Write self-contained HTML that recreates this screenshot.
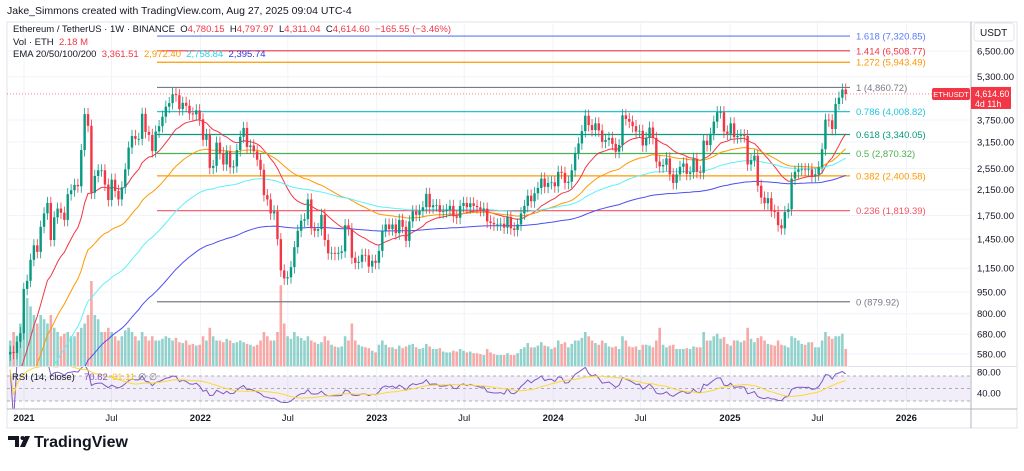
<!DOCTYPE html>
<html><head><meta charset="utf-8"><style>
html,body{margin:0;padding:0;background:#fff;width:1024px;height:471px;overflow:hidden;font-family:"Liberation Sans",sans-serif}
svg{position:absolute;left:0;top:0}
</style></head><body>
<svg id="chart" width="1024" height="471" xmlns="http://www.w3.org/2000/svg"></svg>
<script>
const closes=[590,585,640,685,975,
1040,1230,1380,1310,1600,1780,1935,1440,1725,1850,1790,1690,2075,2140,2235,2210,2950,3930,3580,2100,2400,2510,2510,2240,1980,2330,2130,1990,2190,2530,3010,3300,3225,3225,3940,3410,3330,2925,3420,3570,3850,4170,4290,4610,4570,4090,4300,4200,3950,3920,4050,3770,
3200,3330,2560,2600,3130,2880,2630,2920,2570,2590,2950,3280,3520,3020,3060,2920,2730,2520,2060,1990,1780,1810,1450,1130,1060,1070,1160,1360,1550,1680,1700,1990,1580,1550,1570,1760,1440,1295,1300,1290,1300,1315,1620,1570,1250,1200,1210,1280,1275,1165,1220,1200,
1320,1550,1630,1570,1630,1520,1690,1600,1430,1670,1810,1760,1820,1870,2080,1870,1900,1900,1800,1810,1830,1890,1740,1720,1890,1935,1870,1930,1890,1870,1830,1850,1670,1650,1630,1630,1640,1590,1730,1580,1560,1630,1780,1890,2050,1960,2090,2180,2350,2200,2270,2280,
2210,2480,2460,2270,2290,2510,2880,3110,3430,3880,3600,3460,3650,3450,3150,3200,3250,3100,2910,3070,3890,3780,3700,3570,3420,3440,3060,3250,3530,3250,2690,2590,2620,2760,2430,2270,2430,2580,2650,2440,2470,2750,2480,2460,3180,3070,3360,3700,3990,3990,3420,3360,3650,
3270,3300,3320,3300,2630,2720,2820,2220,2020,1930,2010,1820,1800,1620,1580,1800,1840,2350,2480,2530,2530,2520,2530,2400,2430,2570,2970,3760,3740,3490,4260,4480,4780,4614.6];
const volumes=[3,4,3.5,5,6,
8,7,6,5,6,5.5,5,6,4.5,4,3.5,3.8,4,3.5,3.5,4,4.5,5,6,10,6,5.5,4,4,4.5,4,3.5,3,3.5,4.2,4.5,4,3.5,3,4,3.5,3,3.5,3,3,3.2,3.5,3.3,3,3.3,2.8,2.7,3,2.5,2.6,2.4,2.5,
3.5,3,4.5,3.5,3,3,2.8,3.2,3,2.7,2.8,3,2.8,2.6,2.5,2.3,2.5,3,4,3.5,3,3,4,9.5,5,3.5,3.2,4,3.5,3.3,3,3.5,3,2.8,2.6,2.8,3.5,3,2.5,2.3,2.2,2.3,3.5,3,5,3,2.5,2.3,2.2,2.1,1.8,1.6,
2.5,3,2.5,2.2,2.2,2,2.4,2.1,2.3,2.5,2.6,2.2,2,2.1,2.6,2.3,2,2,2.1,1.7,1.6,1.6,1.8,1.7,2,1.8,1.6,1.7,1.5,1.5,1.4,1.3,2,1.6,1.4,1.3,1.3,1.3,1.5,1.3,1.3,1.5,2,2.2,2.7,2.2,2.2,2.4,2.8,2.4,2.3,2.0,
2.2,3,2.6,2.8,2.2,2.6,3,3,3.3,4,3.5,3,2.7,2.5,3,2.7,2.3,2.2,2.3,2,3.5,3,2.3,2.2,2.3,1.9,2.5,2.5,2.4,2.2,3,4.5,2.5,2.2,2.4,2.5,2,2,2,2.1,2,2.3,2.2,2.2,4,3,3,3.5,3.8,3.2,3.4,2.6,2.4,
3,3,2.8,3,4.5,3.2,2.8,3.3,3.5,3,2.6,2.5,2.4,3,2.5,2.4,2.2,3.5,3.3,3,2.6,2.5,2.8,2.8,2.2,2.2,3,4,3.5,3.2,3.5,3.5,3.8,2.0];
const priceTicks=[6500,5300,3750,3150,2550,2150,1750,1450,1150,950,800,680,580];
const timeLabels=["2021","Jul","2022","Jul","2023","Jul","2024","Jul","2025","Jul","2026"];
const timeDays=[0,181,365,546,730,911,1095,1276,1461,1642,1826];
const fibRatios=["1.618","1.414","1.272","1","0.786","0.618","0.5","0.382","0.236","0"];
const fibPrices=[7320.85,6508.77,5943.49,4860.72,4008.82,3340.05,2870.32,2400.58,1819.39,879.92];
const fibColors=["#5b7cf7","#f23645","#ff9800","#787b86","#22c4dc","#089981","#4caf50","#ff9800","#f7525f","#787b86"];

const NS="http://www.w3.org/2000/svg";
const svg=document.getElementById('chart');
function el(tag,attrs,parent){const e=document.createElementNS(NS,tag);for(const k in attrs)e.setAttribute(k,attrs[k]);(parent||svg).appendChild(e);return e;}
function txt(x,y,s,attrs,parent){const t=el('text',Object.assign({x:x,y:y,'font-family':'Liberation Sans, sans-serif'},attrs),parent);t.textContent=s;return t;}
const yP=p=>51+(Math.log(6500)-Math.log(p))*125.4;
const xI=i=>24+((i*7+3.5)-32)/365.25*176.5;
const xD=d=>24+d/365.25*176.5;
const yR=v=>376+(70-v)*0.625;
const L=7,R=970,T=22,PB=366;

el('rect',{x:7,y:22,width:1010,height:406,fill:'#fff',stroke:'#e0e3eb','stroke-width':1});
const grid=el('g',{});
priceTicks.forEach(p=>el('line',{x1:L,x2:R,y1:yP(p),y2:yP(p),stroke:'#f0f3fa','stroke-width':1},grid));
timeDays.forEach(d=>el('line',{x1:xD(d),x2:xD(d),y1:T,y2:409,stroke:'#f0f3fa','stroke-width':1},grid));
const defs=el('defs',{});
const cp=el('clipPath',{id:'pc'},defs);el('rect',{x:L,y:T,width:R-L,height:PB-T},cp);
const cr=el('clipPath',{id:'rc'},defs);el('rect',{x:L,y:367,width:R-L,height:42},cr);

const vg=el('g',{'clip-path':'url(#pc)'});
closes.forEach((c,i)=>{const o=i?closes[i-1]:c*0.98;const v=volumes[i]||2;const h=v/10*85;
 const r=el('rect',{x:xI(i)-1.3,y:PB-h,width:2.6,height:h,fill:c>=o?'#26a69a':'#ef5350','fill-opacity':0.5},vg);
 });

const fg=el('g',{});
fibPrices.forEach((p,k)=>{const y=yP(p);el('line',{x1:157,x2:850,y1:y,y2:y,stroke:fibColors[k],'stroke-width':1.2},fg);
 const t=txt(856,y+3.5,fibRatios[k]+' ('+p.toLocaleString('en-US',{minimumFractionDigits:2})+')',{'font-size':9.5,fill:fibColors[k]},fg);
 });

function ema(n,seed){let e=seed;return closes.map(c=>{e=e+(c-e)*2/(n+1);return e;});}
const emaDefs=[[20,450,'#f23645'],[50,350,'#ff9800'],[100,300,'#5ef0f8'],[200,220,'#4b4ff0']];
emaDefs.forEach(([n,s,col])=>{const v=ema(n,s);const d=v.map((e,i)=>(i?'L':'M')+xI(i).toFixed(1)+','+yP(e).toFixed(1)).join('');
 const p=el('path',{d:d,fill:'none',stroke:col,'stroke-width':1,'clip-path':'url(#pc)'});});

const cg=el('g',{'clip-path':'url(#pc)'});
closes.forEach((c,i)=>{const o=i?closes[i-1]:c*0.98;const up=c>=o;const col=up?'#089981':'#f23645';const x=xI(i);
 const hi=Math.max(o,c)*1.05,lo=Math.min(o,c)*0.95;
 el('line',{x1:x,x2:x,y1:yP(hi),y2:yP(lo),stroke:col,'stroke-width':0.8},cg);
 const yt=yP(Math.max(o,c)),yb=yP(Math.min(o,c));
 const r=el('rect',{x:x-1.2,y:yt,width:2.4,height:Math.max(0.8,yb-yt),fill:col},cg);
 });

const last=closes[closes.length-1];
el('line',{x1:L,x2:R,y1:yP(last),y2:yP(last),stroke:'#f23645','stroke-width':0.7,'stroke-dasharray':'1,2'});

el('line',{x1:L,x2:1017,y1:366.5,y2:366.5,stroke:'#e0e3eb'});
el('rect',{x:L,y:yR(70),width:R-L,height:yR(30)-yR(70),fill:'#7e57c2','fill-opacity':0.1});
[70,50,30].forEach(v=>el('line',{x1:L,x2:R,y1:yR(v),y2:yR(v),stroke:'#9598a1','stroke-width':0.8,'stroke-dasharray':'3,3'}));
let ag=0,al=0;const rsi=[];closes.forEach((c,i)=>{if(!i){rsi.push(80);return;}const ch=c-closes[i-1];const g=Math.max(ch,0),l=Math.max(-ch,0);
 if(i<=14){ag+=g/14;al+=l/14;}else{ag=(ag*13+g)/14;al=(al*13+l)/14;}rsi.push(al===0?90:100-100/(1+ag/al));});
const rsiMa=rsi.map((v,i)=>{const s=rsi.slice(Math.max(0,i-13),i+1);return s.reduce((a,b)=>a+b,0)/s.length;});
const rp=el('path',{d:rsi.map((v,i)=>(i?'L':'M')+xI(i).toFixed(1)+','+yR(v).toFixed(1)).join(''),fill:'none',stroke:'#7e57c2','stroke-width':1,'clip-path':'url(#rc)'});

const rm=el('path',{d:rsiMa.map((v,i)=>(i?'L':'M')+xI(i).toFixed(1)+','+yR(v).toFixed(1)).join(''),fill:'none',stroke:'#fdd835','stroke-width':1,'clip-path':'url(#rc)'});

txt(12,380,'RSI (14, close)',{'font-size':9.5,fill:'#131722'});
txt(84,380,'70.82',{'font-size':9.5,fill:'#7e57c2'});
txt(112,380,'61.11',{'font-size':9.5,fill:'#f9c30f'});
txt(138,380,'∅ ∅',{'font-size':9.5,fill:'#787b86'});

el('line',{x1:971,x2:971,y1:22,y2:428,stroke:'#b2b5be'});
el('line',{x1:L,x2:1017,y1:409,y2:409,stroke:'#b2b5be'});
const pa=el('g',{});
priceTicks.forEach(p=>txt(977,yP(p)+3.5,p.toLocaleString('en-US',{minimumFractionDigits:2}),{'font-size':9.5,fill:'#131722'},pa));
txt(977,372+3.5,'80.00',{'font-size':9.5,fill:'#131722'},pa);
txt(977,393+3.5,'40.00',{'font-size':9.5,fill:'#131722'},pa);
el('rect',{x:974,y:23,width:40,height:18,rx:3,fill:'#fff',stroke:'#e0e3eb'});
txt(980,36,'USDT',{'font-size':10,fill:'#131722'});
const ta=el('g',{});
timeLabels.forEach((s,k)=>txt(xD(timeDays[k]),421,s,{'font-size':9.5,fill:'#131722','text-anchor':'middle','font-weight':s.length===4?'bold':'normal'},ta));

const ly=yP(last);
el('rect',{x:932,y:ly-6,width:38,height:12,rx:2,fill:'#f23645'});
txt(951,ly+3,'ETHUSDT',{'font-size':7.5,fill:'#fff','text-anchor':'middle'});
el('rect',{x:971,y:ly-7,width:40,height:22,fill:'#f23645'});
txt(975,ly+3,'4,614.60',{'font-size':8.8,fill:'#fff'});
txt(975,ly+13,'4d 11h',{'font-size':8.8,fill:'#fff'});

txt(7,14,'Jake_Simmons created with TradingView.com, Aug 27, 2025 09:04 UTC-4',{'font-size':10.5,fill:'#131722'});
const lg=el('g',{'font-size':9.5});
function line(y,parts){const t=txt(13,y,'',{},lg);t.style.whiteSpace='pre';parts.forEach(([s,c])=>{const sp=document.createElementNS(NS,'tspan');sp.setAttribute('fill',c);sp.textContent=s;t.appendChild(sp);});}
line(32,[['Ethereum / TetherUS · 1W · BINANCE  ','#131722'],['O','#131722'],['4,780.15  ','#f23645'],['H','#131722'],['4,797.97  ','#f23645'],['L','#131722'],['4,311.04  ','#f23645'],['C','#131722'],['4,614.60  −165.55 (−3.46%)','#f23645']]);
line(45,[['Vol · ETH  ','#131722'],['2.18 M','#f23645']]);
line(57,[['EMA 20/50/100/200  ','#131722'],['3,361.51  ','#f23645'],['2,972.40  ','#ff9800'],['2,758.84  ','#22d3e6'],['2,395.74','#2f33e0']]);

const lo=el('g',{});
el('path',{d:'M8 436h11v11h-4v-7h-7z',fill:'#131722'},lo);
el('circle',{cx:22.5,cy:438,r:2,fill:'#131722'},lo);
el('path',{d:'M25 436h5l-5 11h-5z',fill:'#131722'},lo);
txt(34,447,'TradingView',{'font-size':16,'font-weight':'bold',fill:'#131722'},lo);
</script>
</body></html>
